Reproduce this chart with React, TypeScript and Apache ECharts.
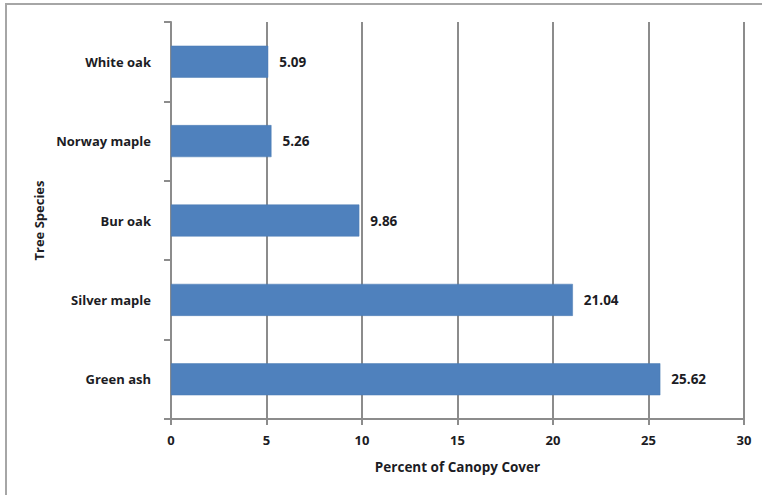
import React, { useEffect, useRef } from "react";
import * as echarts from "echarts";

const categories = ["White oak", "Norway maple", "Bur oak", "Silver maple", "Green ash"];
const values = [5.09, 5.26, 9.86, 21.04, 25.62];
const xTicks = [0, 5, 10, 15, 20, 25, 30];

const FONT = "'Open Sans', Lato, sans-serif";
const TXT = "#1c1c24";

export default function App() {
  const ref = useRef<HTMLDivElement>(null);
  useEffect(() => {
    document.body.style.margin = "0";
    const chart = echarts.init(ref.current!, null, { renderer: "svg" });
    chart.setOption({
      animation: false,
      backgroundColor: "#ffffff",
      textStyle: { fontFamily: FONT },
      graphic: [
        {
          type: "rect",
          shape: { x: 6, y: 4, width: 820, height: 600 },
          style: { fill: "none", stroke: "#a6a6a6", lineWidth: 2 },
          silent: true,
        },
      ],
      grid: { left: 171, right: 18, top: 22, bottom: 76 },
      xAxis: {
        type: "value",
        min: xTicks[0],
        max: xTicks[xTicks.length - 1],
        interval: 5,
        name: "Percent of Canopy Cover",
        nameLocation: "middle",
        nameGap: 41,
        nameTextStyle: { fontFamily: FONT, fontSize: 13.5, fontWeight: "bold", color: TXT },
        axisLine: { show: true, lineStyle: { color: "#8c8c8c", width: 2 } },
        axisTick: { show: true, length: 6, lineStyle: { color: "#8c8c8c", width: 2 } },
        axisLabel: { fontFamily: FONT, fontSize: 13, fontWeight: "bold", color: TXT, margin: 14 },
        splitLine: { show: true, lineStyle: { color: "#8c8c8c", width: 2 } },
      },
      yAxis: {
        type: "category",
        data: categories,
        inverse: true,
        name: "Tree Species",
        nameLocation: "middle",
        nameGap: 123,
        nameRotate: 90,
        nameTextStyle: { fontFamily: FONT, fontSize: 13, fontWeight: "bold", color: TXT },
        axisLine: { show: true, lineStyle: { color: "#8c8c8c", width: 2 } },
        axisTick: { show: true, length: 7, lineStyle: { color: "#8c8c8c", width: 2 } },
        axisLabel: { fontFamily: FONT, fontSize: 13, fontWeight: "bold", color: TXT, margin: 20 },
      },
      series: [
        {
          type: "bar",
          data: values,
          barWidth: 32,
          itemStyle: { color: "#4f81bd", borderColor: "#4a7ab3", borderWidth: 0.5 },
          label: {
            show: true,
            position: "right",
            distance: 11,
            fontFamily: FONT,
            fontSize: 13.5,
            fontWeight: "bold",
            color: TXT,
            formatter: (p: any) => p.value.toFixed(2),
          },
        },
      ],
    });
    return () => chart.dispose();
  }, []);
  return <div ref={ref} style={{ width: 762, height: 495 }} />;
}
